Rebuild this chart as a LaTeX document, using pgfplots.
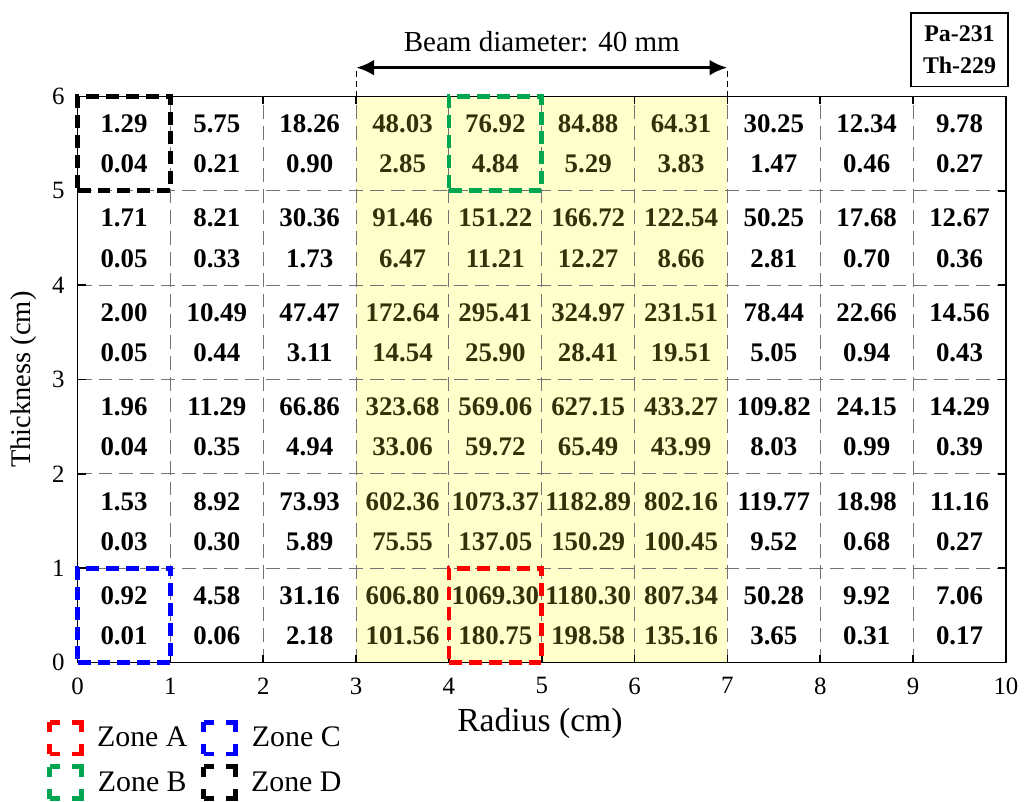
\documentclass[border=0pt]{standalone}
\usepackage{fontspec}
\setmainfont{Liberation Serif}
\usepackage{pgfplots}
\usepackage{pgfplotstable}
\pgfplotsset{compat=1.18}
\usetikzlibrary{arrows.meta}
\definecolor{yellowbg}{RGB}{255,255,204}
\definecolor{olivetext}{RGB}{50,50,10}
\definecolor{zgreen}{RGB}{0,166,80}

\pgfplotstableread{
x y label
0.5 5.71 1.29
1.5 5.71 5.75
2.5 5.71 18.26
7.5 5.71 30.25
8.5 5.71 12.34
9.5 5.71 9.78
0.5 5.285 0.04
1.5 5.285 0.21
2.5 5.285 0.90
7.5 5.285 1.47
8.5 5.285 0.46
9.5 5.285 0.27
0.5 4.71 1.71
1.5 4.71 8.21
2.5 4.71 30.36
7.5 4.71 50.25
8.5 4.71 17.68
9.5 4.71 12.67
0.5 4.285 0.05
1.5 4.285 0.33
2.5 4.285 1.73
7.5 4.285 2.81
8.5 4.285 0.70
9.5 4.285 0.36
0.5 3.71 2.00
1.5 3.71 10.49
2.5 3.71 47.47
7.5 3.71 78.44
8.5 3.71 22.66
9.5 3.71 14.56
0.5 3.285 0.05
1.5 3.285 0.44
2.5 3.285 3.11
7.5 3.285 5.05
8.5 3.285 0.94
9.5 3.285 0.43
0.5 2.71 1.96
1.5 2.71 11.29
2.5 2.71 66.86
7.5 2.71 109.82
8.5 2.71 24.15
9.5 2.71 14.29
0.5 2.285 0.04
1.5 2.285 0.35
2.5 2.285 4.94
7.5 2.285 8.03
8.5 2.285 0.99
9.5 2.285 0.39
0.5 1.71 1.53
1.5 1.71 8.92
2.5 1.71 73.93
7.5 1.71 119.77
8.5 1.71 18.98
9.5 1.71 11.16
0.5 1.285 0.03
1.5 1.285 0.30
2.5 1.285 5.89
7.5 1.285 9.52
8.5 1.285 0.68
9.5 1.285 0.27
0.5 0.71 0.92
1.5 0.71 4.58
2.5 0.71 31.16
7.5 0.71 50.28
8.5 0.71 9.92
9.5 0.71 7.06
0.5 0.285 0.01
1.5 0.285 0.06
2.5 0.285 2.18
7.5 0.285 3.65
8.5 0.285 0.31
9.5 0.285 0.17
}\outer

\pgfplotstableread{
x y label
3.5 5.71 48.03
4.5 5.71 76.92
5.5 5.71 84.88
6.5 5.71 64.31
3.5 5.285 2.85
4.5 5.285 4.84
5.5 5.285 5.29
6.5 5.285 3.83
3.5 4.71 91.46
4.5 4.71 151.22
5.5 4.71 166.72
6.5 4.71 122.54
3.5 4.285 6.47
4.5 4.285 11.21
5.5 4.285 12.27
6.5 4.285 8.66
3.5 3.71 172.64
4.5 3.71 295.41
5.5 3.71 324.97
6.5 3.71 231.51
3.5 3.285 14.54
4.5 3.285 25.90
5.5 3.285 28.41
6.5 3.285 19.51
3.5 2.71 323.68
4.5 2.71 569.06
5.5 2.71 627.15
6.5 2.71 433.27
3.5 2.285 33.06
4.5 2.285 59.72
5.5 2.285 65.49
6.5 2.285 43.99
3.5 1.71 602.36
4.5 1.71 1073.37
5.5 1.71 1182.89
6.5 1.71 802.16
3.5 1.285 75.55
4.5 1.285 137.05
5.5 1.285 150.29
6.5 1.285 100.45
3.5 0.71 606.80
4.5 0.71 1069.30
5.5 0.71 1180.30
6.5 0.71 807.34
3.5 0.285 101.56
4.5 0.285 180.75
5.5 0.285 198.58
6.5 0.285 135.16
}\inner

\begin{document}
\begin{tikzpicture}
\begin{axis}[
  set layers,
  scale only axis,
  width=466.5pt, height=284.5pt,
  xmin=0, xmax=10, ymin=0, ymax=6,
  xtick={0,...,10}, ytick={0,...,6},
  xticklabels={\textrm{0},\textrm{1},\textrm{2},\textrm{3},\textrm{4},\textrm{5},\textrm{6},\textrm{7},\textrm{8},\textrm{9},\textrm{10}},
  yticklabels={\textrm{0},\textrm{1},\textrm{2},\textrm{3},\textrm{4},\textrm{5},\textrm{6}},
  tick align=inside, tick pos=both,
  major tick length=4pt,
  axis line style={line width=0.8pt},
  every tick/.style={black, line width=0.8pt},
  grid=major,
  major grid style={black!55, line width=0.55pt, dash pattern=on 7pt off 3.5pt},
  tick label style={font=\fontsize{12.5}{15}\selectfont},
  xticklabel style={yshift=-4pt},
  yticklabel style={xshift=-3pt},
  xlabel={Radius (cm)}, ylabel={Thickness (cm)},
  xlabel style={font=\fontsize{16.9}{19}\selectfont, at={(axis description cs:0.498,-0.108)}, anchor=center},
  ylabel style={font=\fontsize{14.3}{17}\selectfont, at={(axis description cs:-0.058,0.5)}, anchor=center},
  clip=false,
  legend columns=2,
  legend style={draw=none, fill=none, at={(axis description cs:-0.033,-0.1)}, anchor=north west,
    font=\fontsize{15}{17}\selectfont,
    /tikz/every odd column/.append style={column sep=4.5pt},
    /tikz/every even column/.append style={column sep=5pt},
    row sep=4pt, inner sep=0pt},
  legend image code/.code={\draw[#1, line width=2.5pt, dash pattern=on 5pt off 6pt on 5pt off 0pt] (0pt,-8pt) rectangle (16pt,8pt);},
]
\addplot[on layer=axis background, fill=yellowbg, draw=none, forget plot] coordinates {(3,6) (7,6)} \closedcycle;
\addplot[only marks, mark=none, forget plot, nodes near coords, point meta=explicit symbolic,
  nodes near coords align=center,
  every node near coord/.style={font=\bfseries\fontsize{13.5}{15}\selectfont, text=black, anchor=center}]
  table[x=x, y=y, meta=label] {\outer};
\addplot[only marks, mark=none, forget plot, nodes near coords, point meta=explicit symbolic,
  nodes near coords align=center,
  every node near coord/.style={font=\bfseries\fontsize{13.5}{15}\selectfont, text=olivetext, anchor=center}]
  table[x=x, y=y, meta=label] {\inner};
\addplot[red, line width=2.4pt, dash pattern=on 6.5pt off 3.5pt] coordinates {(4,0) (5,0) (5,1) (4,1) (4,0)};
\addlegendentry{Zone A}
\addplot[blue, line width=2.4pt, dash pattern=on 6.5pt off 3.5pt] coordinates {(0,0) (1,0) (1,1) (0,1) (0,0)};
\addlegendentry{Zone C}
\addplot[zgreen, line width=2.4pt, dash pattern=on 6.5pt off 3.5pt] coordinates {(4,5) (5,5) (5,6) (4,6) (4,5)};
\addlegendentry{Zone B}
\addplot[black, line width=2.4pt, dash pattern=on 6.5pt off 3.5pt] coordinates {(0,5) (1,5) (1,6) (0,6) (0,5)};
\addlegendentry{Zone D}
\draw[black, line width=0.6pt, dash pattern=on 3pt off 2pt] (axis cs:3,6) -- (axis cs:3,6.31);
\draw[black, line width=0.6pt, dash pattern=on 3pt off 2pt] (axis cs:7,6) -- (axis cs:7,6.31);
\draw[line width=1.8pt, {Latex[length=9pt,width=8pt]}-{Latex[length=9pt,width=8pt]}] (axis cs:3,6.306) -- (axis cs:7,6.306);
\node[font=\fontsize{14.6}{17}\selectfont] at (axis cs:5.0,6.58) {Beam diameter: 40 mm};
\node[draw, line width=0.8pt, minimum width=48.5pt, minimum height=37pt, align=center, inner sep=1pt,
  font=\bfseries\fontsize{12}{16}\selectfont] at (axis cs:9.50,6.496) {Pa-231\\Th-229};
\path (axis cs:-0.836,-1.35) rectangle (axis cs:10.15,7.023);
\end{axis}
\end{tikzpicture}
\end{document}
